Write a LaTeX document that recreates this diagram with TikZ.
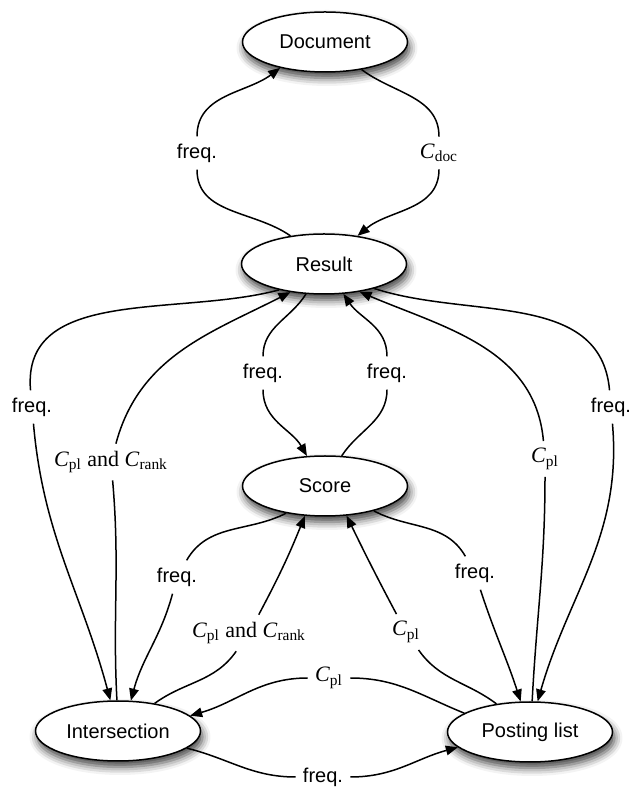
\documentclass[tikz,border=0pt]{standalone}
\usepackage{fontspec}
\setmainfont{Liberation Serif}
\newfontfamily\labsans{Liberation Sans}
\usetikzlibrary{shapes.geometric,arrows.meta,shadows.blur}
\newcommand{\Cs}[1]{\textit{C}\textsubscript{#1}}
\tikzset{
  state/.style={ellipse, draw, line width=0.75pt, fill=white, inner sep=0pt,
    minimum width=82.5pt, minimum height=30pt,
    font=\labsans\fontsize{10}{12}\selectfont,
    blur shadow={shadow xshift=1pt, shadow yshift=-3pt, shadow blur radius=4pt, shadow opacity=75}},
  lsans/.style={inner sep=3.5pt, font=\labsans\fontsize{10}{12}\selectfont},
  lserif/.style={inner sep=3.5pt, font=\fontsize{11}{13}\selectfont},
  arr/.style={line width=0.75pt, -{Triangle[length=6pt,width=4.8pt]}},
}
\begin{document}
\begin{tikzpicture}[x=0.5pt,y=0.5pt]
\useasboundingbox (0,0) rectangle (632,787);
% nodes
\node[state] (doc) at (325,745) {Document};
\node[state] (res) at (324,523) {Result};
\node[state] (sco) at (325,301) {Score};
\node[state] (int) at (118,56) {Intersection};
\node[state] (pos) at (530,55) {Posting list};
% labels
\node[lsans]  (l1)  at (197,634) {freq.};
\node[lserif] (l2)  at (439,634) {\Cs{doc}};
\node[lsans]  (l3)  at (32,380)  {freq.};
\node[lserif] (l4)  at (111,325) {\Cs{pl} and \Cs{rank}};
\node[lsans]  (l5)  at (263,414) {freq.};
\node[lsans]  (l6)  at (387,414) {freq.};
\node[lsans]  (l7)  at (611,380) {freq.};
\node[lserif] (l8)  at (545,328) {\Cs{pl}};
\node[lsans]  (l9)  at (177,210) {freq.};
\node[lserif] (l10) at (249,154) {\Cs{pl} and \Cs{rank}};
\node[lserif] (l11) at (406,155) {\Cs{pl}};
\node[lsans]  (l12) at (475,214) {freq.};
\node[lserif] (l13) at (329,109) {\Cs{pl}};
\node[lsans]  (l14) at (323,10)  {freq.};
% edges
\draw[arr] (res.140) to[out=145,in=-90] (l1) to[out=90,in=-143] (doc.-150);
\draw[arr] (doc.-37) to[out=-37,in=90] (l2) to[out=-90,in=40] (res.40);
\draw[arr] (res.-150) to[out=195,in=95] (l3) to[out=-85,in=105] (int.104);
\draw[arr] (int.92) to[out=93,in=-85] (l4) to[out=75,in=207] (res.-140);
\draw[arr] (res.-121) to[out=-122,in=90] (l5) to[out=-90,in=120] (sco.121);
\draw[arr] (sco.61) to[out=57,in=-90] (l6) to[out=90,in=-56] (res.-57);
\draw[arr] (res.-26) to[out=-18,in=95] (l7) to[out=-85,in=74] (pos.76);
\draw[arr] (pos.86) to[out=87,in=-90] (l8) to[out=95,in=-23] (res.-38.5);
\draw[arr] (sco.-145) to[out=207,in=60] (l9) to[out=-105,in=75] (int.67);
\draw[arr] (int.37) to[out=36,in=-125] (l10) to[out=62,in=-112] (sco.-124.5);
\draw[arr] (pos.140) to[out=143,in=-55] (l11) to[out=118,in=-64] (sco.-54);
\draw[arr] (sco.-27.5) to[out=-28,in=120] (l12) to[out=-72,in=108] (pos.107);
\draw[arr] (pos.164) to[out=158,in=0] (l13) to[out=180,in=16] (int.12.5);
\draw[arr] (int.-14) to[out=-14,in=180] (l14) to[out=0,in=-165] (pos.-168);
\end{tikzpicture}
\end{document}
